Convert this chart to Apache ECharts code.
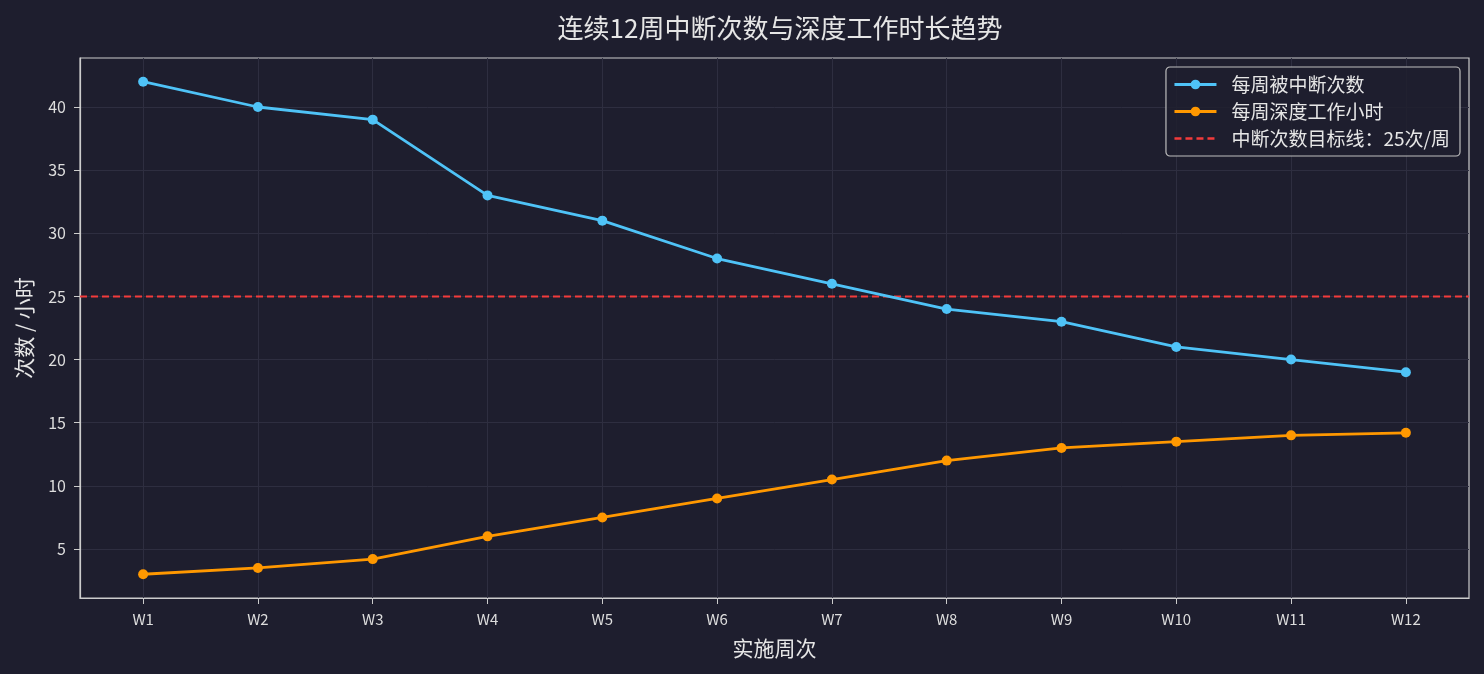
<!DOCTYPE html>
<html>
<head>
<meta charset="utf-8">
<title>连续12周中断次数与深度工作时长趋势</title>
<script src="https://cdn.jsdelivr.net/npm/echarts@6/dist/echarts.min.js"></script>
<style>
  html, body { margin: 0; padding: 0; background: #1e1e2e; }
  #chart { width: 1484px; height: 674px; }
</style>
</head>
<body>
<div id="chart"></div>
<script>
"use strict";

/* ── 数据 ── */
const weeks = ["W1", "W2", "W3", "W4", "W5", "W6", "W7", "W8", "W9", "W10", "W11", "W12"];
const interruptions = [42, 40, 39, 33, 31, 28, 26, 24, 23, 21, 20, 19];
const deepWorkHours = [3, 3.5, 4.2, 6, 7.5, 9, 10.5, 12, 13, 13.5, 14, 14.2];
const targetValue = 25;
const yTicks = [5, 10, 15, 20, 25, 30, 35, 40];

const FONT = "'Noto Sans CJK SC', 'DejaVu Sans', sans-serif";
const xIdx = weeks.map((w, i) => i);
const xMin = -0.55, xMax = weeks.length - 1 + 0.55;

const BLUE = "#4fc3f7", ORANGE = "#ff9800", RED = "#f23b3b";

const chart = echarts.init(document.getElementById("chart"));

chart.setOption({
  backgroundColor: "#1e1e2e",
  animation: false,
  textStyle: { fontFamily: FONT },
  title: {
    text: "连续12周中断次数与深度工作时长趋势",
    left: 775, top: 10, textAlign: "center",
    textStyle: { color: "#e6e6e6", fontSize: 26, fontWeight: "normal", fontFamily: FONT }
  },
  legend: {
    right: 24, top: 67, orient: "vertical",
    itemWidth: 42, itemHeight: 12, itemGap: 8,
    padding: [8, 10, 8, 7],
    backgroundColor: "rgba(30,30,46,0.85)",
    borderColor: "#bdbdbd", borderWidth: 1.2, borderRadius: 4,
    textStyle: { color: "#e6e6e6", fontSize: 19, fontFamily: FONT, padding: [0, 0, 0, 10] },
    data: [
      { name: "每周被中断次数", lineStyle: { width: 3, color: BLUE } },
      { name: "每周深度工作小时", lineStyle: { width: 3, color: ORANGE } },
      { name: "中断次数目标线：25次/周", itemStyle: { opacity: 0 }, lineStyle: { width: 2.4, color: RED } }
    ]
  },
  grid: {
    left: 80, right: 15, top: 58, bottom: 76,
    show: true, borderColor: "#cccccc", borderWidth: 1.2, backgroundColor: "#1e1e2e"
  },
  xAxis: {
    type: "value", min: xMin, max: xMax,
    name: "实施周次", nameLocation: "middle", nameGap: 40,
    nameTextStyle: { color: "#e6e6e6", fontSize: 21, fontFamily: FONT },
    axisLine: { show: true, onZero: false, lineStyle: { color: "#cccccc", width: 1.2 } },
    axisTick: { show: true, length: 6, customValues: xIdx, lineStyle: { color: "#cccccc" } },
    axisLabel: {
      customValues: xIdx, color: "#dddddd", fontSize: 15, margin: 14,
      formatter: v => weeks[Math.round(v)] || ""
    },
    splitLine: { show: true, lineStyle: { color: "#2e2e40", width: 1 } }
  },
  yAxis: {
    type: "value", min: 1.12, max: 43.88,
    name: "次数 / 小时", nameLocation: "middle", nameGap: 45,
    nameTextStyle: { color: "#e6e6e6", fontSize: 21, fontFamily: FONT },
    axisLine: { show: true, onZero: false, lineStyle: { color: "#cccccc", width: 1.2 } },
    axisTick: { show: true, length: 6, customValues: yTicks, lineStyle: { color: "#cccccc" } },
    axisLabel: { customValues: yTicks, color: "#dddddd", fontSize: 16, margin: 14 },
    splitLine: { show: true, lineStyle: { color: "#2e2e40", width: 1 } }
  },
  series: [
    {
      name: "每周被中断次数", type: "line",
      data: interruptions.map((v, i) => [i, v]),
      symbol: "circle", symbolSize: 10,
      lineStyle: { color: BLUE, width: 2.8 },
      itemStyle: { color: BLUE }
    },
    {
      name: "每周深度工作小时", type: "line",
      data: deepWorkHours.map((v, i) => [i, v]),
      symbol: "circle", symbolSize: 10,
      lineStyle: { color: ORANGE, width: 2.8 },
      itemStyle: { color: ORANGE }
    },
    {
      name: "中断次数目标线：25次/周", type: "line",
      data: [[xMin, targetValue], [xMax, targetValue]],
      symbol: "none", z: 1,
      lineStyle: { color: RED, width: 2, type: [7, 4] },
      itemStyle: { color: RED }
    }
  ]
});
</script>
</body>
</html>
